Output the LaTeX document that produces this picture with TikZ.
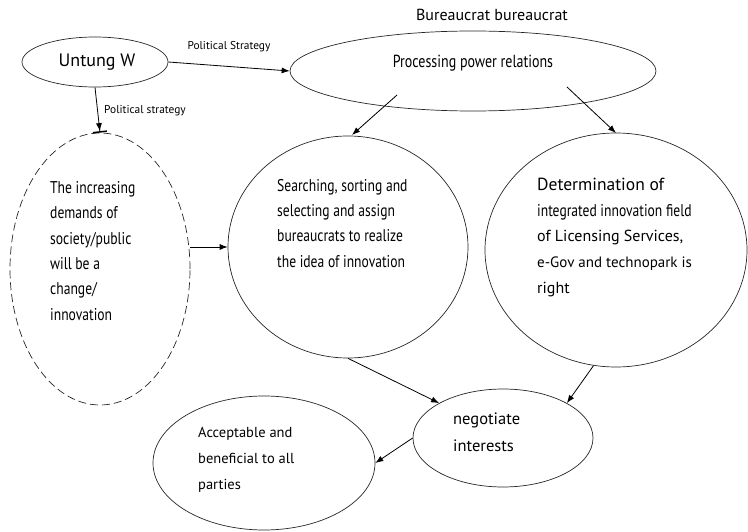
\documentclass[tikz,border=0pt]{standalone}
\usepackage{fontspec}
\setmainfont{PT Sans}
\newfontfamily\cond[FakeStretch=0.8]{PT Sans}
\usetikzlibrary{arrows.meta,shapes.geometric}
\newcommand{\fs}[2]{\fontsize{#1}{#2}\selectfont}
\begin{document}
\begin{tikzpicture}[x=1pt,y=-1pt,
  ell/.style={ellipse,draw=black!85,line width=0.7pt,inner sep=0pt},
  txt/.style={inner sep=0pt,align=left,anchor=north west},
  lbl/.style={inner sep=0pt,font=\fs{11.4}{13}},
  arr/.style={draw=black,line width=0.8pt,-{Latex[length=8pt,width=6pt]}}]
\useasboundingbox (0,0) rectangle (748,532);
% ellipses
\node[ell,minimum width=146pt,minimum height=50pt] (untung) at (95,62) {};
\node[ell,minimum width=366pt,minimum height=80pt] (proc) at (473,71) {};
\node[ell,dash pattern=on 8pt off 4pt,minimum width=180pt,minimum height=272pt] (demand) at (100,269) {};
\node[ell,minimum width=240pt,minimum height=222pt] (search) at (348,247) {};
\node[ell,minimum width=262pt,minimum height=234pt] (determ) at (616,250) {};
\node[ell,minimum width=180pt,minimum height=98pt] (nego) at (503,438) {};
\node[ell,minimum width=222pt,minimum height=134pt] (accept) at (264,463) {};
% texts
\node[inner sep=0pt,font=\fs{16}{18}] (bb) at (492,15) {Bureaucrat bureaucrat};
\node[inner sep=0pt,font=\fs{18}{20}] (untungt) at (97,62) {Untung W};
\node[lbl] (ps1) at (229,47) {Political Strategy};
\node[lbl,anchor=west] (ps2) at (104,111) {Political strategy};
\node[inner sep=0pt,font=\cond\fs{17.5}{20}] (proct) at (473,63) {Processing power relations};
\node[txt,font=\cond\fs{17}{25.4}] (demandt) at (50,181) {The increasing\\demands of\\society/public\\will be a\\change/\\innovation};
\node[txt,font=\cond\fs{17}{25.3}] (searcht) at (277,179) {Searching, sorting and\\selecting and assign\\bureaucrats to realize\\the idea of innovation};
\node[txt,font=\fs{16}{25.7}] (determt) at (537,178) {{\fs{17.5}{25.7}Determination of}\\{\cond\fs{17}{25.7}integrated innovation field}\\{\fs{16}{25.7}of Licensing Services,}\\{\fs{15}{25.7}e-Gov and technopark is}\\{\fs{16}{25.7}right}};
\node[txt,font=\fs{16.5}{27}] (negot) at (453,413) {negotiate\\interests};
\node[txt,font=\fs{14.5}{26}] (acceptt) at (198,427) {Acceptable and\\beneficial to all\\parties};
% connectors
\coordinate (p1) at (397,95);
\coordinate (p2) at (567,87);
\coordinate (s1) at (352,135);
\coordinate (d1) at (616,133);
\draw[arr] (untung.east) -- (proc.west);
\draw[draw=black,line width=0.8pt,-{Latex[length=8pt,width=6pt]Bar[width=14pt,line width=1.5pt]}] (untung.south) -- (demand.north);
\draw[arr] (p1) -- (s1);
\draw[arr] (p2) -- (d1);
\draw[arr] (demand.east |- search.west) -- (search.west);
\draw[arr] (search.south) -- (nego.north west);
\draw[arr] (determ.-101) -- (nego.north east);
\draw[arr] (nego.west) -- (accept.east);
\end{tikzpicture}
\end{document}
